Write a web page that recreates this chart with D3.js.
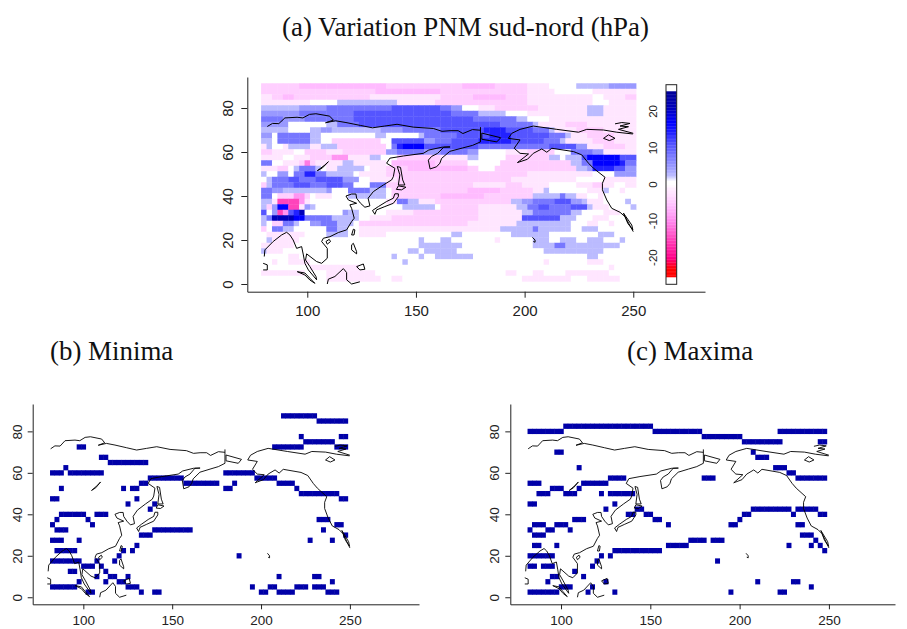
<!DOCTYPE html>
<html>
<head>
<meta charset="utf-8">
<script src="https://d3js.org/d3.v7.min.js"></script>
<style>
html, body { margin: 0; padding: 0; background: #fff; }
svg { display: block; }
text { font-family: "Liberation Sans", Arial, sans-serif; fill: #222; }
.title { font-family: "Liberation Serif", "Times New Roman", serif; fill: #111; }
</style>
</head>
<body>
<script>
// lon of the first cell and grid step, lat of the top row
var lonStart = 80, latTop = 90, gridStep = 2.5;

// panel (a): one string per latitude row (90 down to 2.5), letter + run length
// . = about 0, a..g = positive hPa, p..v = negative hPa
var pressureRows = [
  'q7 r16 q9 q5 r6 q6 p4 .5 a6 b5',
  'q21 r12 q16 p5 .7 p8',
  'p2 q2 r2 q14 p13 q6 r6 q4 p12 .2 p4 q2',
  'p9 .5 a11 p7 q2 q15 p12 .3 p5',
  'a7 b5 c12 d9 c2 b2 .3 p3 q8 p9 a3 p6',
  'b7 c10 d16 d2 c5 a5 .4 p11 a3 p6',
  'c4 b4 c9 d16 d6 c8 a2 .4 p16',
  'b5 .7 a2 c4 d15 d11 c6 a1 p5 q4 p9',
  'a5 .4 a2 b2 a9 b4 c7 d8 e4 d5 c3 a1 p4 q5 p6',
  'b2 .1 c6 a2 .10 a2 .6 a1 c3 c3 d6 e4 d7 c3 a1 p3 q5 p4',
  'a2 .1 c6 a2 .2 q9 .2 d6 b2 c1 c2 d5 e6 d6 c3 a1 p5 q4 p4',
  'p1 a1 .2 p1 a4 p2 a3 q9 .1 c1 e1 f4 d3 d7 c6 c7 d5 b2 p3 q4 p2',
  'q2 p4 .2 q4 p3 q8 b2 c5 b3 c5 b2 .5 p4 q5 .3 c4 b2 p6',
  'p4 .2 p3 q4 s3 p4 a2 .3 q8 p5 a2 .5 q8 a2 .1 a3 d1 f6 d3',
  'c2 .2 p3 q1 t1 q1 p5 a2 p6 .1 r8 q1 q5 .6 q13 a2 c2 f5 e1 c2',
  'p3 q2 .1 a1 c3 a1 .1 p2 a5 .1 p3 q4 r6 r5 q2 .3 q15 a2 b1 e4 d2 b2',
  'a1 .2 b2 .1 c2 e2 c2 a5 .1 p5 q10 q16 p12 .4 b4',
  '.1 a1 c3 d2 c3 d2 d3 b3 .2 p5 q8 q13 p12 .5 p6',
  'q1 a1 c4 d3 c3 d3 c2 .3 c3 q10 q6 p6 q3 p5 .5 p3 q2 p2 .2 p2',
  'c2 b2 a8 b1 .3 c4 a3 .1 q9 q5 r6 q6 p2 a1 .7 p3 a1 .2 p1 .2',
  'c2 .1 q3 s2 q1 .1 p3 .3 a7 .1 q9 r8 q9 a5 c1 a2 p2 .2 p1 .6',
  'a2 p1 u4 s1 p1 .14 p2 c2 a2 p3 q14 a2 b2 c4 d3 b2 a1 p3 .4 a1',
  'a1 q1 b1 f2 u2 p1 b1 a1 .16 a6 .1 q7 p7 a2 c2 d2 c4 d3 a1 p3 .4 a1',
  'd1 .1 b1 u1 s1 d1 e1 g1 .7 b1 a2 .5 p5 q5 q7 p8 a2 c7 a2 .4 p3 .3',
  'a1 c1 g4 f2 c5 a5 .2 p4 q9 q7 p8 d7 a3 .3 p3 .5',
  'a1 .1 q2 c2 a1 .2 b2 c3 a3 .1 q15 q5 p9 a10 .3 p2 .2 p1 .4',
  'q1 .1 c2 a2 .6 c2 a2 .2 p15 p11 a6 c1 a6 .2 a3 .7',
  '.1 p7 .4 a4 .2 p5 .12 a2 .9 a7 .9 a3 .4',
  '.1 a1 p5 .22 a1 .3 a2 .8 p1 .6 a3 .2 a3 .2 a3 .3 a1 .2',
  'p6 .23 a8 .13 a4 c2 a10 .3',
  'a1 p3 .23 a2 .1 a6 .16 a11 .6',
  '.5 p2 .17 a1 .4 a1 .2 a7 .21 a2 .7',
  '.2 p1 .2 p4 .17 a1 .25 p1 .7 p3 .6',
  '.9 p9 .46 p1 .4',
  'p8 .4 p9 .24 p2 .3 p2 .4 p8 .5',
  '.12 p10 .2 p2 .22 p9 .3 p6 .3'
];
var levelValues = {'.': 0, p: -2, q: -4.2, r: -6, s: -9, t: -11, u: -15, v: -19,
                   a: 2.5, b: 5, c: 8, d: 11, e: 14, f: 17, g: 21};

// colour scale of panel (a)
var colorValues = [-25.3, -23, -20, -15, -10, -6, -3, -1, 0, 1, 2.5, 5, 8, 11, 14, 17, 21, 25.3];
var colorList = ['#ff0000', '#ff0000', '#ff0088', '#ff44bb', '#ff88ee', '#ffbbff', '#ffddff', '#ffeeff', '#ffffff',
                 '#ffffff', '#bbbbff', '#9999ff', '#7777ff', '#5555ff', '#2222ff', '#0000ff', '#0000bb', '#000099'];
var colorTicks = [-20, -10, 0, 10, 20];

var lonTicks = [100, 150, 200, 250];
var latTicks = [0, 20, 40, 60, 80];

// panels (b) and (c): [lat, first lon, last lon] of each run of marked cells
var minimaRuns = [
  [87.5,212.5,230],[85,232.5,247.5],[77.5,222.5,222.5],[77.5,245,247.5],[75,225,240],
  [72.5,97.5,100],[72.5,207.5,222.5],[72.5,242.5,247.5],[67.5,110,112.5],[65,115,135],[62.5,90,90],
  [60,82.5,87.5],[60,92.5,110],[60,180,195],[57.5,137.5,155],[57.5,197.5,207.5],
  [55,132.5,135],[55,157.5,175],[55,185,185],[55,210,217.5],
  [52.5,87.5,87.5],[52.5,122.5,122.5],[52.5,127.5,130],[52.5,180,182.5],[52.5,220,220],
  [50,222.5,242.5],[47.5,82.5,85],[47.5,130,130],[47.5,245,247.5],[45,125,125],[45,140,140],[42.5,137.5,137.5],
  [40,87.5,100],[40,107.5,112.5],[37.5,85,85],[37.5,102.5,102.5],[37.5,232.5,237.5],
  [35,82.5,82.5],[35,105,105],[35,242.5,245],[32.5,85,90],[32.5,140,160],[32.5,235,235],
  [30,132.5,137.5],[30,247.5,247.5],[27.5,82.5,87.5],[27.5,97.5,97.5],[27.5,227.5,227.5],[27.5,240,240],
  [25,130,130],[22.5,85,95],[22.5,122.5,122.5],[22.5,127.5,127.5],[20,120,120],[20,187.5,187.5],
  [17.5,82.5,97.5],[17.5,107.5,107.5],[17.5,117.5,117.5],[15,100,105],[15,110,110],
  [12.5,92.5,95],[12.5,112.5,112.5],[10,107.5,107.5],[10,115,117.5],[10,125,125],[10,210,210],[10,230,232.5],
  [7.5,97.5,97.5],[7.5,112.5,112.5],[7.5,120,122.5],[7.5,240,240],
  [5,82.5,95],[5,125,130],[5,195,195],[5,205,207.5],[5,220,225],[5,230,235],
  [2.5,102.5,105],[2.5,132.5,132.5],[2.5,140,142.5],[2.5,200,202.5],[2.5,210,217.5],[2.5,237.5,242.5]
];
var maximaRuns = [
  [82.5,102.5,150],[80,82.5,100],[80,152.5,177.5],[80,222.5,247.5],[77.5,180,200],
  [75,202.5,222.5],[75,245,247.5],[70,97.5,100],[70,207.5,207.5],[67.5,210,215],
  [62.5,110,110],[62.5,220,225],[60,227.5,230],[57.5,127.5,135],[57.5,180,185],[57.5,232.5,247.5],
  [55,82.5,87.5],[55,112.5,125],[52.5,95,100],[52.5,110,110],
  [50,87.5,92.5],[50,102.5,107.5],[50,122.5,122.5],[50,127.5,140],[45,82.5,85],[45,130,130],
  [42.5,125,125],[42.5,142.5,145],[42.5,207.5,227.5],[42.5,232.5,242.5],
  [40,137.5,140],[40,147.5,150],[40,202.5,205],[40,230,230],[40,245,247.5],
  [37.5,107.5,112.5],[37.5,152.5,155],[37.5,200,200],
  [35,85,90],[35,97.5,102.5],[35,160,160],[35,195,197.5],[35,232.5,235],
  [32.5,82.5,82.5],[32.5,92.5,95],[32.5,105,105],[30,85,90],[30,235,240],
  [27.5,172.5,180],[27.5,185,190],[27.5,242.5,242.5],
  [25,85,87.5],[25,97.5,97.5],[25,160,170],[25,227.5,227.5],[25,240,240],[25,245,245],
  [22.5,130,155],[22.5,247.5,247.5],[20,82.5,95],[20,122.5,122.5],[20,127.5,127.5],
  [17.5,120,120],[17.5,187.5,187.5],[15,82.5,85],[15,90,95],[15,117.5,117.5],[12.5,107.5,107.5],
  [10,95,97.5],[10,112.5,112.5],[7.5,92.5,92.5],[7.5,125,125],[7.5,210,210],[7.5,230,232.5],
  [5,100,105],[5,117.5,117.5],[5,240,240],[2.5,82.5,97.5],[2.5,115,115],[2.5,130,130],[2.5,195,195],[2.5,222.5,225]
];

// coastlines, [lon, lat]
var coastArctic = [[81.6,71.6],[84,73],[86.9,72.9],[89.7,75.5],[95.3,75.8],[98,75.5],[101,77.1],[104,77.4],[110.3,76.3],[112,74.5],[108.4,73.3],
  [113,74.2],[117.8,73.4],[124.4,72.1],[130,71],[135.6,71.8],[141.3,72.6],[148.8,71.3],[158,70.7],[162,69.4],[165.7,69.7],[169.4,69.7],[171.6,68.4],[176,70.2],[179.7,69.9]];
var coastDateline = [[179.7,71.3],[179.7,64.6]];
var coastChukotka = [[180.3,68.6],[189,66.5],[187.2,64.6],[180.3,65.8],[180.3,68.6]];
var coastAsia = [[80.2,12.5],[80.5,15.5],[84.3,19.3],[88.2,22.3],[90.5,23.5],[92,22.3],[93.5,20],[95.1,16.2],[97.4,17],[98.2,13.2],[98.9,9.4],[100.5,6.4],[104.3,1.9],
  [104,3.4],[101.2,7.9],[99.2,10.9],[99.7,13.7],[104.3,10.2],[106.6,9.4],[109.2,11.7],[109.2,16.2],[106.6,19.3],[107.4,20.8],[110.4,21.5],[114.3,23.4],[118.1,24.6],
  [120.4,28.4],[121.6,29.9],[120.4,34.4],[119.6,36],[122.7,36.7],[118.9,38.2],[117.8,40],[120.4,40.9],[122.4,40.9],[122.7,39],[124.5,36.7],[126.5,34.9],[128.8,35.5],
  [128,39],[130.4,42],[135,45],[138.8,47.3],[139.6,48.8],[140.3,52.6],[136.5,54.9],[138,57.2],[144.2,58.2],[153.4,59.4],[155.9,60.9],[162,62.2],[165.7,62.3],
  [162.8,62.2],[160,59.4],[157.2,58],[155.7,56.3],[156.5,52.3],[159.5,53.3],[161,54.9],[161.8,57.1],[165.6,60.3],[171.3,61.8],[176,63],[179.7,64.6]];
var coastHonshu = [[130,33.4],[131.1,31.7],[131.9,33.7],[135.7,35.2],[139.6,36.7],[141.9,39.7],[141.9,41],[140.3,41],[139.6,39],[136.5,37.5],[132.7,35.2],[130,33.4]];
var coastHokkaido = [[141.9,44.6],[145.4,44],[143.4,42.8],[141,43],[141.9,44.6]];
var coastSakhalin = [[141.4,53.4],[142.9,53],[143.9,47.3],[144.9,45],[141.9,45],[142.6,49.6],[141.4,53.4]];
var coastTaiwan = [[120.4,22.3],[121.2,24.9],[121.9,24.6],[121.5,22.3],[120.4,22.3]];
var coastHainan = [[108.6,19.3],[110.1,20.3],[110.7,19.3],[109.2,18.1],[108.6,19.3]];
var coastLuzon = [[120.4,17.8],[121.2,18.5],[122.7,14.7],[122.7,13.7],[120.4,15.5],[120.4,17.8]];
var coastMindanao = [[122.7,7.9],[125.8,9.1],[126.5,6.7],[124.2,6.4],[122.7,7.9]];
var coastBorneo = [[109.2,0],[109.7,2.2],[112.7,3.4],[116.6,7],[118.1,5.2],[118.1,1.9],[120.4,0],[124.2,1]];
var coastSumatra = [[95.4,5.6],[98.9,4.1],[101.2,1.8],[103.5,0.3],[101.2,2.6],[98.9,5],[95.4,5.6]];
var coastLanka = [[79.7,9.4],[81.6,8.7],[81.6,6.4],[79.7,6.4]];
var coastBaikal = [[104.6,51.5],[108.1,54.1],[109.7,55.6],[107,52.8],[104.6,51.5]];
var coastAlaskaNorth = [[204,71.8],[214.8,70.3],[224.8,69],[228.6,70.3],[236.3,70],[242.4,69],[249.8,68.2]];
var coastAmerica = [[204,71.8],[197.9,70.3],[194.1,68.5],[192.5,66.2],[197.9,65.5],[195.2,61.7],[197.9,59.4],[201.8,59.1],[196.7,55.2],[201.3,56.7],[204,59.4],
  [207.9,61.4],[210.2,59.9],[212.5,61.7],[222.5,60.2],[226.3,58.7],[229.4,54.9],[231.7,52.6],[237,48.5],[235.8,45.8],[235.8,42.8],[237.8,38.2],[240.1,34.4],[243.9,32.6],[246.2,30.6],[250,23.8]];
var coastBaja = [[245.5,32.2],[249.3,26.8],[249.8,24.6],[247.5,27.5],[245.5,32.2]];
var coastVictoria = [[236.3,66.2],[238.6,67.8],[241.6,66.2],[239,65.2],[236.3,66.2]];
var coastArchipelago = [[241.6,72.8],[244.7,73.4],[248.5,73],[243.9,71.8],[247.8,71.5],[243.2,70.3],[250,68.5]];
var coastHawaii = [[203.6,21.2],[204.8,20],[204.8,19],[204,19.3]];
var coasts = [coastArctic, coastDateline, coastChukotka, coastAsia, coastHonshu, coastHokkaido, coastSakhalin, coastTaiwan, coastHainan,
  coastLuzon, coastMindanao, coastBorneo, coastSumatra, coastLanka, coastBaikal, coastAlaskaNorth, coastAmerica, coastBaja, coastVictoria, coastArchipelago, coastHawaii];

var svg = d3.select('body').append('svg')
    .attr('width', 907)
    .attr('height', 629);

function addTitle(x, y, label) {
  svg.append('text')
      .attr('class', 'title')
      .attr('x', x)
      .attr('y', y)
      .attr('font-size', 26.9)
      .text(label);
}

// axes and coast are the same in the three panels
function addAxes(x, y, fontSize, tickLen, labelGap) {
  var xAxis = d3.axisBottom(x).tickValues(lonTicks).tickSizeInner(tickLen).tickSizeOuter(0).tickPadding(labelGap);
  var yAxis = d3.axisLeft(y).tickValues(latTicks).tickSizeInner(tickLen).tickSizeOuter(0);
  var gx = svg.append('g')
      .attr('transform', 'translate(0,' + y.range()[0] + ')')
      .call(xAxis);
  var gy = svg.append('g')
      .attr('transform', 'translate(' + x.range()[0] + ',0)')
      .call(yAxis);
  gx.selectAll('text').attr('font-size', fontSize).attr('font-family', null);
  gy.selectAll('text')
      .attr('font-size', fontSize)
      .attr('font-family', null)
      .attr('text-anchor', 'middle')
      .attr('dy', 0)
      .attr('x', 0)
      .attr('y', 0)
      .attr('transform', 'translate(' + (-tickLen - labelGap) + ',0) rotate(-90)');
  gx.selectAll('path, line').attr('stroke', '#222');
  gy.selectAll('path, line').attr('stroke', '#222');
}

function addCoast(x, y, width) {
  var line = d3.line()
      .x(function(d) { return x(d[0]); })
      .y(function(d) { return y(d[1]); });
  svg.append('g').selectAll('path')
      .data(coasts)
      .enter().append('path')
      .attr('d', line)
      .attr('fill', 'none')
      .attr('stroke', '#000')
      .attr('stroke-width', width);
}

function addMarkers(x, y, runs) {
  var cells = [];
  runs.forEach(function(run) {
    for (var lon = run[1]; lon <= run[2]; lon += gridStep) cells.push({lon: lon, lat: run[0]});
  });
  svg.append('g').selectAll('rect')
      .data(cells)
      .enter().append('rect')
      .attr('x', function(d) { return x(d.lon - gridStep / 2); })
      .attr('y', function(d) { return y(d.lat + gridStep / 2); })
      .attr('width', x(gridStep) - x(0) + 0.5)
      .attr('height', y(0) - y(gridStep) + 0.1)
      .attr('fill', '#0000a8');
}

// ---- panel (a)
var color = d3.scaleLinear().domain(colorValues).range(colorList);
var xA = d3.scaleLinear().domain([72.4, 283]).range([247.3, 705]);
var yA = d3.scaleLinear().domain([-3.5, 94.1]).range([291.7, 77]);

var pressureCells = [];
pressureRows.forEach(function(row, r) {
  var c = 0;
  row.split(' ').forEach(function(run) {
    for (var k = 0; k < +run.slice(1); k++) {
      pressureCells.push({lon: lonStart + gridStep * c, lat: latTop - gridStep * r, value: levelValues[run[0]]});
      c++;
    }
  });
});

svg.append('g').selectAll('rect')
    .data(pressureCells)
    .enter().append('rect')
    .attr('x', function(d) { return xA(d.lon - gridStep / 2); })
    .attr('y', function(d) { return yA(d.lat + gridStep / 2); })
    .attr('width', xA(gridStep) - xA(0) + 0.4)
    .attr('height', yA(0) - yA(gridStep) + 0.4)
    .attr('fill', function(d) { return color(d.value); });

addCoast(xA, yA, 1);
addAxes(xA, yA, 15, 6, 8);

// colour bar, white caps above and below the scale
var yBar = d3.scaleLinear().domain([-27.3, 27.3]).range([284.3, 84.7]);
var barSteps = d3.range(-25.3, 25.3, 0.4);
svg.append('g').selectAll('rect')
    .data(barSteps)
    .enter().append('rect')
    .attr('x', 666)
    .attr('y', function(d) { return yBar(d + 0.4); })
    .attr('width', 10.7)
    .attr('height', yBar(0) - yBar(0.4) + 0.3)
    .attr('fill', function(d) { return color(d + 0.2); });
svg.append('rect')
    .attr('x', 666)
    .attr('y', yBar(27.3))
    .attr('width', 10.7)
    .attr('height', yBar(-27.3) - yBar(27.3))
    .attr('fill', 'none')
    .attr('stroke', '#222')
    .attr('stroke-width', 1);
svg.append('g').selectAll('text')
    .data(colorTicks)
    .enter().append('text')
    .attr('font-size', 11.5)
    .attr('text-anchor', 'middle')
    .attr('transform', function(d) { return 'translate(657,' + yBar(d) + ') rotate(-90)'; })
    .text(function(d) { return d; });

addTitle(282, 36, '(a) Variation PNM sud-nord (hPa)');

// ---- panel (b)
var xB = d3.scaleLinear().domain([71.5, 288.9]).range([32.7, 419]);
var yB = d3.scaleLinear().domain([-3.4, 93.2]).range([604.3, 404]);
addMarkers(xB, yB, minimaRuns);
addCoast(xB, yB, 0.9);
addAxes(xB, yB, 13.5, 5, 6);
addTitle(50, 360, '(b) Minima');

// ---- panel (c)
var xC = d3.scaleLinear().domain([71.6, 287]).range([510.3, 895]);
var yC = d3.scaleLinear().domain([-3.4, 93.2]).range([604.3, 404]);
addMarkers(xC, yC, maximaRuns);
addCoast(xC, yC, 0.9);
addAxes(xC, yC, 13.5, 5, 6);
addTitle(627, 360, '(c) Maxima');
</script>
</body>
</html>
